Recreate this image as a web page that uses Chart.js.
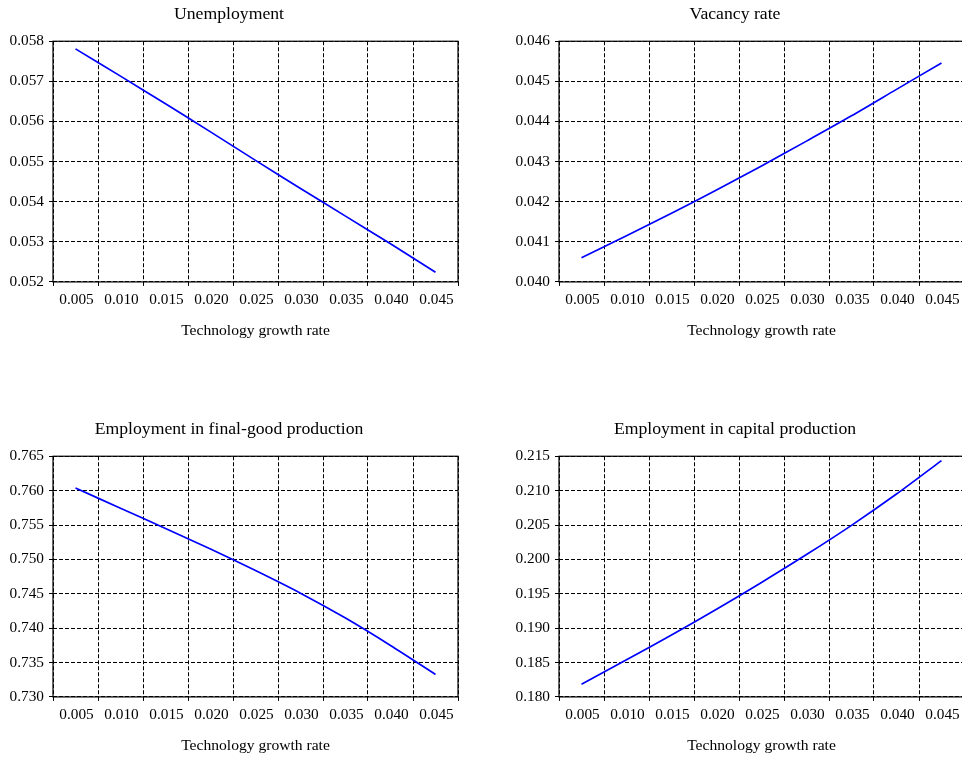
<!DOCTYPE html>
<html>
<head>
<meta charset="utf-8">
<script src="https://cdn.jsdelivr.net/npm/chart.js@4.4.1/dist/chart.umd.min.js"></script>
<style>
    body { margin: 0; background: #fff; overflow: hidden; }
    #figura { position: relative; width: 962px; height: 760px; overflow: hidden; }
    #figura canvas { position: absolute; }
</style>
</head>
<body>
<div id="figura">
    <canvas id="chart-desemprego" width="480" height="344" style="left:0;top:0"></canvas>
    <canvas id="chart-vagas" width="480" height="344" style="left:506px;top:0"></canvas>
    <canvas id="chart-final" width="480" height="344" style="left:0;top:415px"></canvas>
    <canvas id="chart-capital" width="480" height="344" style="left:506px;top:415px"></canvas>
</div>
<script>
// Eixo x (comum aos quatro gráficos)
const taxaTecnologia = [0.005, 0.010, 0.015, 0.020, 0.025, 0.030, 0.035, 0.040, 0.045];
const rotulosX = ['0.005', '0.010', '0.015', '0.020', '0.025', '0.030', '0.035', '0.040', '0.045'];
// linhas da grade ficam meio passo deslocadas dos rótulos
const gradeX = [0.0025, 0.0075, 0.0125, 0.0175, 0.0225, 0.0275, 0.0325, 0.0375, 0.0425, 0.0475];

// Séries
const desemprego = [0.05781, 0.05713, 0.05644, 0.05574, 0.05503, 0.05433, 0.05364, 0.05295, 0.05224];
const taxaVagas = [0.04060, 0.04115, 0.04171, 0.04229, 0.04289, 0.04351, 0.04414, 0.04480, 0.04546];
const empregoFinal = [0.76037, 0.75744, 0.75450, 0.75151, 0.74838, 0.74509, 0.74147, 0.73749, 0.73327];
const empregoCapital = [0.18183, 0.18540, 0.18900, 0.19275, 0.19665, 0.20070, 0.20495, 0.20950, 0.21437];

// Ticks do eixo y
const ticksDesemprego = [0.052, 0.053, 0.054, 0.055, 0.056, 0.057, 0.058];
const ticksVagas = [0.040, 0.041, 0.042, 0.043, 0.044, 0.045, 0.046];
const ticksFinal = [0.730, 0.735, 0.740, 0.745, 0.750, 0.755, 0.760, 0.765];
const ticksCapital = [0.180, 0.185, 0.190, 0.195, 0.200, 0.205, 0.210, 0.215];

Chart.defaults.font.family = '"Liberation Serif", "DejaVu Serif", serif';
Chart.defaults.color = '#000';

// Moldura preta em volta da área do gráfico
const moldura = {
    id: 'moldura',
    afterDraw(chart) {
        const { ctx, chartArea: a } = chart;
        ctx.save();
        ctx.strokeStyle = '#000';
        ctx.lineWidth = 1.2;
        ctx.strokeRect(a.left, a.top, a.right - a.left, a.bottom - a.top);
        ctx.restore();
    }
};

function criarGrafico(id, titulo, valores, ticksY) {
    const ctx = document.getElementById(id).getContext('2d');
    return new Chart(ctx, {
        type: 'line',
        data: {
            datasets: [{
                data: taxaTecnologia.map((x, i) => ({ x: x, y: valores[i] })),
                borderColor: '#0000ff',
                borderWidth: 1.7,
                pointRadius: 0,
                fill: false,
                tension: 0.3
            }]
        },
        options: {
            responsive: false,
            animation: false,
            layout: { padding: { left: 0, right: 22, top: 0, bottom: 0 } },
            plugins: {
                legend: { display: false },
                tooltip: { enabled: false },
                title: {
                    display: true,
                    text: titulo,
                    color: '#000',
                    font: { size: 17.7, weight: 'normal' },
                    padding: { top: 4, bottom: 16 }
                }
            },
            scales: {
                x: {
                    type: 'linear',
                    min: gradeX[0],
                    max: gradeX[gradeX.length - 1],
                    afterBuildTicks: (scale) => {
                        scale.ticks = gradeX.map(v => ({ value: v }));
                    },
                    ticks: {
                        autoSkip: false,
                        maxRotation: 0,
                        padding: 5,
                        labelOffset: 23.5,
                        font: { size: 15.3 },
                        callback: (v, i) => rotulosX[i] || ''
                    },
                    grid: {
                        color: '#000',
                        lineWidth: 1,
                        tickLength: 4,
                        tickBorderDash: [],
                        tickColor: '#000'
                    },
                    border: { display: false, dash: [4, 2] },
                    title: {
                        display: true,
                        text: 'Technology growth rate',
                        color: '#000',
                        font: { size: 15.6 },
                        padding: { top: 7, bottom: 4 }
                    }
                },
                y: {
                    min: ticksY[0],
                    max: ticksY[ticksY.length - 1],
                    afterBuildTicks: (scale) => {
                        scale.ticks = ticksY.map(v => ({ value: v }));
                    },
                    afterFit: (scale) => { scale.width = 53; },
                    ticks: {
                        padding: 5,
                        font: { size: 15.3 },
                        callback: (v) => v.toFixed(3)
                    },
                    grid: {
                        color: '#000',
                        lineWidth: 1,
                        tickLength: 4,
                        tickBorderDash: [],
                        tickColor: '#000'
                    },
                    border: { display: false, dash: [4, 2] }
                }
            }
        },
        plugins: [moldura]
    });
}

criarGrafico('chart-desemprego', 'Unemployment', desemprego, ticksDesemprego);
criarGrafico('chart-vagas', 'Vacancy rate', taxaVagas, ticksVagas);
criarGrafico('chart-final', 'Employment in final-good production', empregoFinal, ticksFinal);
criarGrafico('chart-capital', 'Employment in capital production', empregoCapital, ticksCapital);
</script>
</body>
</html>
